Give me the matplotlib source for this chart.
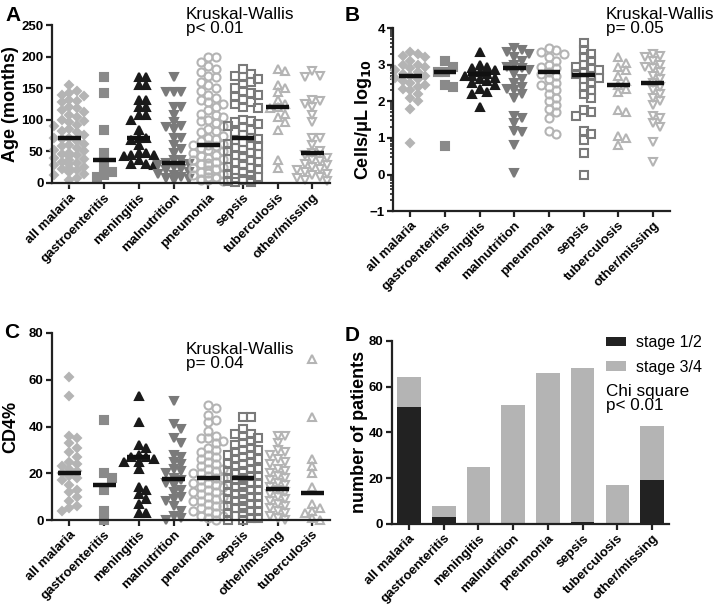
import numpy as np
import matplotlib.pyplot as plt
from matplotlib.ticker import FixedLocator

plt.rcParams['font.family'] = ['Liberation Sans', 'DejaVu Sans']

# ---- data ----
cats_ab = ['all malaria', 'gastroenteritis', 'meningitis', 'malnutrition',
           'pneumonia', 'sepsis', 'tuberculosis', 'other/missing']
cats_c = ['all malaria', 'gastroenteritis', 'meningitis', 'malnutrition',
          'pneumonia', 'sepsis', 'other/missing', 'tuberculosis']

age_malaria = [155, 145, 143, 140, 138, 132, 130, 128, 120, 118, 115, 112, 108, 105, 100, 98, 96, 92,
               90, 85, 82, 80, 76, 72, 72, 70, 66, 62, 60, 58, 55, 52, 50, 48, 46, 44, 42, 40, 38,
               36, 34, 32, 30, 28, 26, 24, 22, 20, 18, 15, 12, 8, 5]
age_gastro = [168, 143, 84, 48, 26, 18, 12, 10]
age_mening = [168, 168, 155, 155, 132, 132, 120, 120, 108, 108, 100, 84, 72, 72, 68, 60, 48, 48,
              45, 44, 42, 36, 30, 30, 28]
age_malnut = [168, 144, 144, 144, 120, 120, 108, 96, 90, 88, 85, 72, 72, 60, 54, 48, 36, 36, 32,
              30, 28, 25, 22, 20, 18, 15, 12, 10, 8, 6, 5]
age_pneu = [200, 200, 192, 185, 180, 175, 170, 168, 160, 155, 150, 145, 140, 135, 132, 128, 125,
            120, 115, 110, 108, 105, 100, 98, 95, 90, 85, 82, 80, 75, 72, 70, 66, 62, 60, 60, 58,
            55, 52, 50, 48, 45, 42, 40, 38, 36, 34, 32, 30, 28, 26, 24, 22, 20, 18, 16, 14, 12,
            10, 9, 8, 6, 5, 4, 3]
age_sepsis = [180, 172, 170, 168, 165, 160, 156, 150, 145, 142, 140, 136, 132, 128, 125, 120, 118,
              100, 98, 96, 94, 90, 88, 84, 80, 76, 72, 70, 68, 65, 62, 60, 58, 55, 52, 50, 48, 46,
              44, 42, 40, 38, 36, 34, 32, 30, 28, 26, 24, 22, 20, 18, 16, 14, 12, 10, 8, 6, 5, 4,
              3, 2, 1]
age_tb = [180, 178, 155, 150, 144, 132, 125, 120, 118, 110, 105, 96, 84, 36, 24]
age_other = [178, 170, 168, 132, 130, 125, 120, 108, 96, 72, 72, 60, 50, 48, 45, 40, 36, 35, 30,
             28, 25, 22, 20, 18, 15, 12, 10, 8, 5, 3]
age_median = [72, 36, 72, 32, 60, 72, 120, 48]

cells_malaria = [3.35, 3.3, 3.25, 3.2, 3.1, 3.0, 3.0, 2.95, 2.9, 2.85, 2.8, 2.75, 2.7, 2.7, 2.65,
                 2.6, 2.55, 2.5, 2.45, 2.4, 2.35, 2.3, 2.2, 2.1, 2.0, 1.8, 0.85]
cells_gastro = [3.1, 2.95, 2.8, 2.8, 2.45, 2.4, 0.78]
cells_mening = [3.35, 3.0, 2.95, 2.9, 2.85, 2.8, 2.75, 2.7, 2.7, 2.65, 2.6, 2.55, 2.5, 2.45, 2.35,
                2.25, 2.2, 1.85]
cells_malnut = [3.45, 3.4, 3.35, 3.3, 3.2, 3.1, 3.0, 2.95, 2.9, 2.85, 2.75, 2.6, 2.5, 2.4, 2.35,
                2.3, 2.2, 2.1, 1.6, 1.55, 1.4, 1.2, 1.15, 0.8, 0.05]
cells_pneu = [3.45, 3.4, 3.35, 3.3, 3.2, 3.1, 3.0, 2.95, 2.9, 2.8, 2.75, 2.7, 2.6, 2.5, 2.45, 2.4,
              2.3, 2.2, 2.1, 2.0, 1.9, 1.8, 1.7, 1.55, 1.2, 1.1]
cells_sepsis = [3.6, 3.4, 3.3, 3.2, 3.1, 3.0, 2.95, 2.9, 2.85, 2.8, 2.75, 2.7, 2.65, 2.6, 2.5, 2.4,
                2.3, 2.2, 2.1, 1.75, 1.7, 1.6, 1.2, 1.1, 0.95, 0.6, 0.0]
cells_tb = [3.2, 3.05, 2.95, 2.85, 2.7, 2.55, 2.45, 2.35, 2.25, 1.75, 1.7, 1.05, 1.0, 0.8]
cells_other = [3.3, 3.25, 3.2, 3.1, 3.0, 2.95, 2.9, 2.8, 2.7, 2.6, 2.5, 2.4, 2.3, 2.2, 2.1, 2.0,
               1.9, 1.6, 1.55, 1.4, 1.3, 0.9, 0.35]
cells_median = [2.7, 2.8, 2.75, 2.9, 2.8, 2.72, 2.45, 2.5]

cd4_malaria = [61, 53, 36, 35, 33, 31, 29, 27, 25, 24, 23, 22, 21, 20, 19, 18, 17, 15, 13, 12,
               10, 8, 6, 5, 4]
cd4_gastro = [43, 20, 18, 13, 4, 0]
cd4_mening = [53, 42, 32, 31, 28, 27, 27, 26, 25, 25, 22, 14, 13, 11, 9, 7, 3, 3]
cd4_malnut = [51, 41, 39, 35, 33, 28, 27, 25, 24, 22, 21, 20, 18, 17, 16, 15, 13, 12, 10, 9, 8,
              6, 4, 2, 1, 0]
cd4_pneu = [49, 48, 45, 43, 42, 38, 36, 35, 35, 34, 33, 31, 30, 29, 28, 27, 26, 25, 24, 23, 22,
            22, 21, 20, 20, 19, 18, 18, 17, 16, 16, 15, 14, 14, 13, 12, 12, 11, 10, 10, 9, 8, 8,
            7, 6, 6, 5, 4, 4, 3, 2, 2, 1, 0]
cd4_sepsis = [44, 44, 39, 37, 37, 36, 35, 34, 33, 32, 31, 30, 30, 29, 28, 28, 27, 26, 26, 25, 24,
              24, 23, 22, 22, 21, 21, 20, 20, 19, 19, 18, 18, 17, 17, 16, 16, 15, 15, 14, 14, 13,
              13, 12, 12, 11, 11, 10, 10, 9, 9, 8, 8, 7, 7, 6, 6, 5, 5, 4, 4, 3, 3, 2, 2, 1, 1,
              0, 0]
cd4_other = [36, 36, 33, 30, 29, 28, 26, 25, 24, 22, 21, 20, 19, 18, 17, 16, 15, 14, 13, 12, 11,
             10, 9, 8, 7, 6, 5, 4, 3, 2, 1, 0]
cd4_tb = [69, 44, 26, 23, 20, 14, 7, 5, 4, 3, 1, 0]
cd4_median = [20, 15, 27, 17.5, 18, 18, 13.5, 11.5]

stage12 = [51, 3, 0, 0, 0, 1, 0, 19]
stage34 = [13, 5, 25, 52, 66, 67, 17, 24]

# ---- styles per disease ----
LG, MG, DG, BK = '#b4b4b4', '#8a8a8a', '#7a7a7a', '#1a1a1a'
style = {
    'all malaria': dict(marker='D', color=LG, fill=True, ms=4.4),
    'gastroenteritis': dict(marker='s', color=MG, fill=True, ms=5.5),
    'meningitis': dict(marker='^', color=BK, fill=True, ms=6),
    'malnutrition': dict(marker='v', color=DG, fill=True, ms=6),
    'pneumonia': dict(marker='o', color=LG, fill=False, ms=5.8),
    'sepsis': dict(marker='s', color=DG, fill=False, ms=5.4),
    'tuberculosis': dict(marker='^', color=LG, fill=False, ms=5.8),
    'other/missing': dict(marker='v', color=LG, fill=False, ms=5.8),
}


def swarm(vals, px_per_unit, d=7.5, lim=15.0):
    placed = []
    offs = []
    cands = [0, d, -d, 2 * d, -2 * d, 0.5 * d, -0.5 * d, 1.5 * d, -1.5 * d]
    cands = [c for c in cands if abs(c) <= lim]
    for v in vals:
        y = v * px_per_unit
        best, bestn = 0, 1e9
        for c in cands:
            n = sum(1 for (px, py) in placed if abs(px - c) < d * 0.9 and abs(py - y) < d * 0.9)
            if n < bestn:
                best, bestn = c, n
            if n == 0:
                break
        placed.append((best, y))
        offs.append(best)
    return np.array(offs) / 34.6


def style_axes(ax, label, xlab):
    for s in ['top', 'right']:
        ax.spines[s].set_visible(False)
    for s in ['left', 'bottom']:
        ax.spines[s].set_linewidth(1.6)
        ax.spines[s].set_color('#222222')
    ax.tick_params(width=1.6, length=4, color='#222222', labelsize=9.5, pad=2)
    for lab in ax.get_yticklabels():
        lab.set_fontweight('bold')
    ax.set_ylabel(label, fontweight='bold', fontsize=13)
    ax.yaxis.set_label_coords(xlab, 0.5)


def dot_panel(ax, cats, groups, medians, px_per_unit):
    for i, (c, vals) in enumerate(zip(cats, groups)):
        st = style[c]
        x = i + swarm(vals, px_per_unit)
        ax.plot(x, vals, linestyle='none', marker=st['marker'], ms=st['ms'],
                mec=st['color'], mfc=st['color'] if st['fill'] else 'none',
                mew=1.5, clip_on=False, zorder=2)
        ax.plot([i - 0.33, i + 0.33], [medians[i], medians[i]], color='#111111', lw=3.2,
                solid_capstyle='butt', zorder=3)
    ax.set_xlim(-0.5, 7.5)
    ax.set_xticks(range(len(cats)))
    ax.set_xticklabels(cats, rotation=45, ha='right', rotation_mode='anchor',
                       fontweight='bold', fontsize=9.5)


fig = plt.figure(figsize=(7.16, 6.12), dpi=100)

# A
axA = fig.add_axes([0.0726, 0.701, 0.388, 0.258])
dot_panel(axA, cats_ab, [age_malaria, age_gastro, age_mening, age_malnut, age_pneu,
                         age_sepsis, age_tb, age_other], age_median, 158 / 250)
axA.set_ylim(0, 250)
axA.set_yticks(range(0, 251, 50))
style_axes(axA, 'Age (months)', -0.118)

# B
axB = fig.add_axes([0.549, 0.655, 0.387, 0.299])
dot_panel(axB, cats_ab, [cells_malaria, cells_gastro, cells_mening, cells_malnut, cells_pneu,
                         cells_sepsis, cells_tb, cells_other], cells_median, 183 / 5)
axB.set_ylim(-1, 4)
axB.set_yticks(range(-1, 5))
minor = [n + np.log10(k) for n in range(-1, 4) for k in range(2, 10)]
axB.yaxis.set_minor_locator(FixedLocator(minor))
axB.tick_params(axis='y', which='minor', length=2.5, width=1.2, color='#222222')
style_axes(axB, 'Cells/\u03bcL log$_{\\mathbf{10}}$', -0.07)

# C
axC = fig.add_axes([0.0726, 0.150, 0.388, 0.306])
dot_panel(axC, cats_c, [cd4_malaria, cd4_gastro, cd4_mening, cd4_malnut, cd4_pneu,
                        cd4_sepsis, cd4_other, cd4_tb], cd4_median, 187 / 80)
axC.set_ylim(0, 80)
axC.set_yticks(range(0, 81, 20))
style_axes(axC, 'CD4%', -0.118)

# D
axD = fig.add_axes([0.547, 0.144, 0.388, 0.299])
xd = np.arange(len(cats_ab))
axD.bar(xd, stage12, width=0.68, color='#222222', label='stage 1/2')
axD.bar(xd, stage34, width=0.68, bottom=stage12, color='#b4b4b4', label='stage 3/4')
axD.set_xlim(-0.5, 7.5)
axD.set_ylim(0, 80)
axD.set_yticks(range(0, 81, 20))
axD.set_xticks(xd)
axD.set_xticklabels(cats_ab, rotation=45, ha='right', rotation_mode='anchor',
                    fontweight='bold', fontsize=9.5)
style_axes(axD, 'number of patients', -0.086)
axD.legend(loc='upper left', bbox_to_anchor=(606 / 716, 1 - 335 / 612),
           bbox_transform=fig.transFigure, frameon=False, fontsize=11.5,
           handlelength=1.25, handleheight=0.55, borderaxespad=0, borderpad=0,
           labelspacing=0.6, handletextpad=0.65)

# panel letters and stats text
for x, y, t in [(0.008, 0.99, 'A'), (0.482, 0.99, 'B'), (0.006, 0.472, 'C'), (0.481, 0.468, 'D')]:
    fig.text(x, y, t, fontsize=15, fontweight='bold', va='top')
kw = dict(fontsize=12.3, va='top', linespacing=0.95)
fig.text(186 / 716, 1 - 7 / 612, 'Kruskal-Wallis\np< 0.01', **kw)
fig.text(606 / 716, 1 - 7 / 612, 'Kruskal-Wallis\np= 0.05', **kw)
fig.text(186 / 716, 1 - 342 / 612, 'Kruskal-Wallis\np= 0.04', **kw)
fig.text(606 / 716, 1 - 384 / 612, 'Chi square\np< 0.01', **kw)

fig.savefig('out.png', dpi=100)
